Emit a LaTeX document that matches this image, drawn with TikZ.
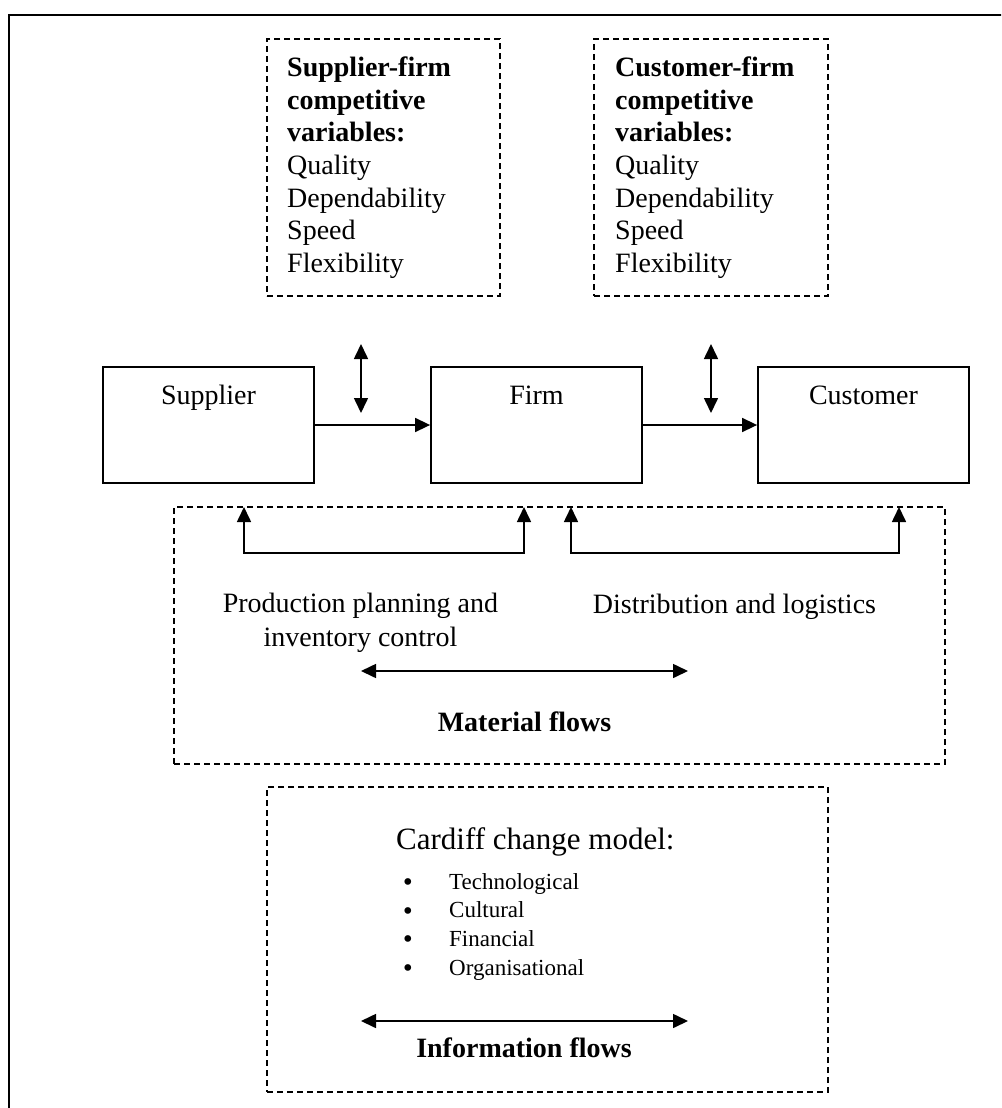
\documentclass[tikz,border=0pt]{standalone}
\usepackage{fontspec}
\setmainfont{Liberation Serif}
\newfontfamily\dotfont{DejaVu Sans}
\usetikzlibrary{arrows.meta}
\newcommand{\listdot}{\makebox[48pt][l]{\raisebox{-1.5pt}{\dotfont •}}}
\begin{document}
\begin{tikzpicture}[x=1pt,y=-1pt,
  stagebox/.style={draw, line width=1.8pt, minimum width=211pt, minimum height=116pt, inner sep=0pt},
  dashbox/.style={draw, line width=1.3pt, dash pattern=on 6pt off 4pt, inner sep=0pt},
  txt/.style={inner sep=0pt, font=\fontsize{28}{32.7}\selectfont},
  flow/.style={line width=1.6pt, -{Triangle[length=15pt,width=14pt]}},
  dflow/.style={line width=1.6pt, {Triangle[length=15pt,width=14pt]}-{Triangle[length=15pt,width=14pt]}},
]
\useasboundingbox (0,0) rectangle (1001,1108);
\clip (0,0) rectangle (1001,1108);

% outer frame
\draw[line width=2.5pt] (9,15) rectangle (1030,1140);

% competitive variables boxes
\node[dashbox, minimum width=233pt, minimum height=257pt] (sfbox) at (383.5,167.5) {};
\node[dashbox, minimum width=234pt, minimum height=257pt] (cfbox) at (711,167.5) {};
\node[txt, anchor=base west] (sftxt) at (287,76.5) {\begin{tabular}[t]{@{}l@{}}
  \textbf{Supplier-firm}\\ \textbf{competitive}\\ \textbf{variables:}\\
  Quality\\ Dependability\\ Speed\\ Flexibility\end{tabular}};
\node[txt, anchor=base west] (cftxt) at (615,76.5) {\begin{tabular}[t]{@{}l@{}}
  \textbf{Customer-firm}\\ \textbf{competitive}\\ \textbf{variables:}\\
  Quality\\ Dependability\\ Speed\\ Flexibility\end{tabular}};

% supply chain stages
\node[stagebox] (sup) at (208.5,425) {};
\node[stagebox] (firm) at (536.5,425) {};
\node[stagebox] (cust) at (863.5,425) {};
\node[txt, anchor=base] (suptxt) at (208.5,404) {Supplier};
\node[txt, anchor=base] (firmtxt) at (536.5,404) {Firm};
\node[txt, anchor=base] (custtxt) at (863.5,404) {Customer};

\draw[flow] (sup.east) -- (firm.west);
\draw[flow] (firm.east) -- (cust.west);

\coordinate (sfa) at (361,344);
\coordinate (sfb) at (361,413);
\coordinate (cfa) at (711,344);
\coordinate (cfb) at (711,413);
\draw[dflow] (sfa) -- (sfb);
\draw[dflow] (cfa) -- (cfb);

% material flows
\node[dashbox, minimum width=771pt, minimum height=257pt] (matbox) at (559.5,635.5) {};
\coordinate (pa) at (244,507);
\coordinate (pb) at (524,507);
\coordinate (da) at (571,507);
\coordinate (db) at (899,507);
\draw[dflow] (pa) -- ++(0,46) -| (pb);
\draw[dflow] (da) -- ++(0,46) -| (db);
\node[txt, anchor=base] (prodtxt) at (360.5,612) {\fontsize{28}{34.5}\selectfont
  \begin{tabular}[t]{@{}c@{}}Production planning and\\ inventory control\end{tabular}};
\node[txt, anchor=base] (disttxt) at (734.5,613) {Distribution and logistics};
\coordinate (ma) at (361,671);
\coordinate (mb) at (688,671);
\draw[dflow] (ma) -- (mb);
\node[txt, anchor=base, font=\fontsize{28}{32.7}\selectfont\bfseries] (mattxt) at (524.5,731) {Material flows};

% information flows
\node[dashbox, minimum width=561pt, minimum height=305pt] (infobox) at (547.5,939.5) {};
\node[txt, anchor=base west, font=\fontsize{31}{36}\selectfont] (cardtxt) at (396,849) {Cardiff change model:};
\node[txt, anchor=base west, font=\fontsize{23}{28.7}\selectfont] (listtxt) at (401,889) {\begin{tabular}[t]{@{}l@{}}
  \listdot Technological\\
  \listdot Cultural\\
  \listdot Financial\\
  \listdot Organisational\end{tabular}};
\coordinate (ia) at (361,1021);
\coordinate (ib) at (688,1021);
\draw[dflow] (ia) -- (ib);
\node[txt, anchor=base, font=\fontsize{28}{32.7}\selectfont\bfseries] (infotxt) at (524,1057) {Information flows};
\end{tikzpicture}
\end{document}
